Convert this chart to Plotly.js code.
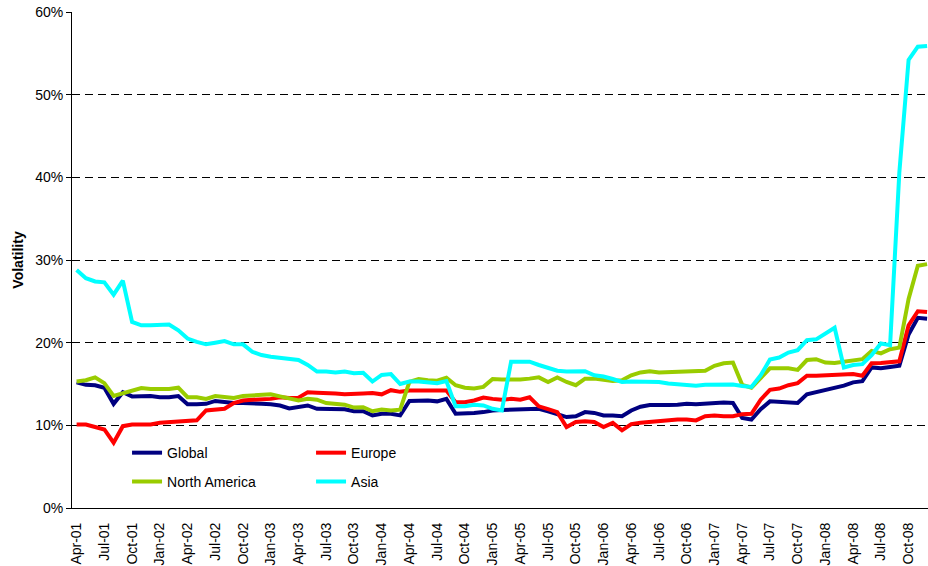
<!DOCTYPE html>
<html>
<head>
<meta charset="utf-8">
<script src="https://cdn.plot.ly/plotly-3.0.1.min.js"></script>
<style>
html,body{margin:0;padding:0;background:#fff;overflow:hidden;}
#chart{width:928px;height:566px;}
</style>
</head>
<body>
<div id="chart"></div>
<script>
var months = [
  'Apr-01','May-01','Jun-01','Jul-01','Aug-01','Sep-01','Oct-01','Nov-01','Dec-01',
  'Jan-02','Feb-02','Mar-02','Apr-02','May-02','Jun-02','Jul-02','Aug-02','Sep-02','Oct-02','Nov-02','Dec-02',
  'Jan-03','Feb-03','Mar-03','Apr-03','May-03','Jun-03','Jul-03','Aug-03','Sep-03','Oct-03','Nov-03','Dec-03',
  'Jan-04','Feb-04','Mar-04','Apr-04','May-04','Jun-04','Jul-04','Aug-04','Sep-04','Oct-04','Nov-04','Dec-04',
  'Jan-05','Feb-05','Mar-05','Apr-05','May-05','Jun-05','Jul-05','Aug-05','Sep-05','Oct-05','Nov-05','Dec-05',
  'Jan-06','Feb-06','Mar-06','Apr-06','May-06','Jun-06','Jul-06','Aug-06','Sep-06','Oct-06','Nov-06','Dec-06',
  'Jan-07','Feb-07','Mar-07','Apr-07','May-07','Jun-07','Jul-07','Aug-07','Sep-07','Oct-07','Nov-07','Dec-07',
  'Jan-08','Feb-08','Mar-08','Apr-08','May-08','Jun-08','Jul-08','Aug-08','Sep-08','Oct-08','Nov-08','Dec-08'
];

var tickLabels = [
  'Apr-01','Jul-01','Oct-01','Jan-02','Apr-02','Jul-02','Oct-02','Jan-03','Apr-03','Jul-03','Oct-03',
  'Jan-04','Apr-04','Jul-04','Oct-04','Jan-05','Apr-05','Jul-05','Oct-05','Jan-06','Apr-06','Jul-06',
  'Oct-06','Jan-07','Apr-07','Jul-07','Oct-07','Jan-08','Apr-08','Jul-08','Oct-08'
];

var globalVol = [
  15.2,14.9,14.85,14.55,12.6,14.0,13.5,13.55,13.55,
  13.4,13.4,13.55,12.55,12.55,12.6,12.95,12.8,12.7,12.7,12.7,12.6,
  12.55,12.4,12.05,12.2,12.4,12.0,11.95,11.95,11.95,11.7,11.7,11.2,
  11.4,11.4,11.2,12.95,13.0,13.0,12.9,13.2,11.4,11.4,11.5,11.6,
  11.8,11.85,11.9,11.95,12.0,12.0,11.7,11.4,11.0,11.1,11.6,11.5,
  11.2,11.2,11.1,11.8,12.25,12.45,12.4,12.45,12.5,12.6,12.55,12.6,
  12.75,12.75,12.7,10.9,10.7,11.95,12.9,12.85,12.7,12.7,13.75,14.0,
  14.3,14.55,14.8,15.2,15.35,17.0,16.9,17.05,17.2,21.0,23.0,22.9
];

var europeVol = [
  10.1,10.1,9.8,9.5,7.9,9.9,10.1,10.1,10.1,
  10.3,10.4,10.4,10.5,10.6,11.8,11.95,12.0,12.7,13.0,13.1,13.15,
  13.2,13.4,13.3,13.35,14.0,13.95,13.95,13.85,13.75,13.85,13.85,13.9,
  13.75,14.25,14.05,14.2,14.2,14.2,14.2,14.2,12.8,12.8,13.0,13.35,
  13.2,13.1,13.2,13.1,13.4,12.3,11.95,11.6,9.8,10.4,10.5,10.4,
  9.8,10.3,9.4,10.15,10.3,10.4,10.55,10.65,10.7,10.7,10.6,11.1,
  11.2,11.1,11.1,11.35,11.4,13.1,14.3,14.45,14.85,15.1,16.0,16.0,
  16.05,16.1,16.15,16.2,16.0,17.5,17.55,17.6,17.75,22.1,23.8,23.7
];

var northAmericaVol = [
  15.3,15.45,15.8,15.1,13.55,13.9,14.2,14.5,14.4,
  14.4,14.4,14.55,13.4,13.4,13.2,13.55,13.4,13.3,13.55,13.6,13.6,
  13.75,13.5,13.3,13.0,13.2,13.1,12.7,12.55,12.5,12.15,12.2,11.7,
  11.9,11.8,11.9,15.25,15.6,15.45,15.4,15.75,14.85,14.55,14.45,14.65,
  15.6,15.55,15.5,15.55,15.65,15.8,15.25,15.8,15.25,14.85,15.65,15.65,
  15.5,15.35,15.45,16.05,16.4,16.55,16.4,16.45,16.45,16.6,16.65,16.6,
  17.2,17.5,17.6,14.9,14.55,15.8,16.9,16.9,16.9,16.7,17.9,18.0,
  17.6,17.55,17.7,17.9,18.0,19.0,18.7,19.2,19.4,25.3,29.3,29.5
];

var asiaVol = [
  28.8,27.8,27.4,27.3,25.8,27.5,22.5,22.1,22.1,
  22.1,22.2,21.5,20.5,20.1,19.8,20.0,20.2,19.8,19.8,18.9,18.5,
  18.3,18.2,18.0,17.9,17.3,16.5,16.5,16.4,16.5,16.3,16.35,15.3,
  16.1,16.2,15.0,15.3,15.3,15.25,15.1,15.35,12.3,12.3,12.5,12.4,
  12.0,11.8,17.7,17.7,17.7,17.3,17.0,16.6,16.5,16.5,16.55,16.05,
  15.9,15.6,15.25,15.3,15.3,15.3,15.25,15.05,14.95,14.95,14.8,14.9,
  14.95,14.95,14.95,14.75,14.65,16.05,17.95,18.2,18.8,19.1,20.3,20.4,
  21.1,21.8,17.0,17.3,17.4,18.5,19.9,19.7,40.6,54.2,55.8,55.9
];

var seriesNames = ['Global','Europe','North America','Asia'];
var seriesColors = ['#000080','#FF0000','#99CC00','#00FFFF'];
var seriesData = [globalVol, europeVol, northAmericaVol, asiaVol];
var seriesLegend = ['legend','legend','legend2','legend2'];

var FONT = '"Liberation Sans", Arial, sans-serif';

var traces = seriesData.map(function(vals, k){
  return {
    type:'scatter', mode:'lines',
    x: months, y: vals,
    name: seriesNames[k],
    legend: seriesLegend[k],
    line:{color: seriesColors[k], width:4},
    hoverinfo:'skip'
  };
});

var legendCommon = {
  orientation:'h', xanchor:'left', yanchor:'top',
  entrywidth:139, entrywidthmode:'pixels',
  bgcolor:'rgba(0,0,0,0)', borderwidth:0,
  font:{family:FONT, size:14, color:'#000'},
  itemclick:false, itemdoubleclick:false
};

var layout = {
  width:928, height:566,
  margin:{l:72, r:0, t:12, b:58, pad:0},
  paper_bgcolor:'#fff', plot_bgcolor:'#fff',
  font:{family:FONT, size:14, color:'#000'},
  showlegend:true,
  legend: Object.assign({}, legendCommon, {x:0.0643, y:0.143}),
  legend2: Object.assign({}, legendCommon, {x:0.0643, y:0.085}),
  xaxis:{
    type:'category',
    range:[-0.5, 92.1],
    tickmode:'array',
    tickvals: tickLabels,
    ticktext: tickLabels,
    tickangle:-90,
    ticks:'',
    ticklabelstandoff:8,
    showline:true, linecolor:'#000', linewidth:1,
    showgrid:false, zeroline:false,
    tickfont:{family:FONT, size:14, color:'#000'}
  },
  yaxis:{
    range:[0,60],
    dtick:10, tick0:0,
    ticksuffix:'%',
    ticks:'outside', ticklen:5, tickcolor:'#000', tickwidth:1,
    showline:true, linecolor:'#000', linewidth:1,
    showgrid:true, gridcolor:'#000', gridwidth:1, griddash:'8px,5px',
    zeroline:false,
    tickfont:{family:FONT, size:14, color:'#000'},
    title:{text:'<b>Volatility</b>', font:{family:FONT, size:14, color:'#000'}, standoff:8}
  }
};

Plotly.newPlot('chart', traces, layout, {staticPlot:true, displayModeBar:false});
</script>
</body>
</html>
